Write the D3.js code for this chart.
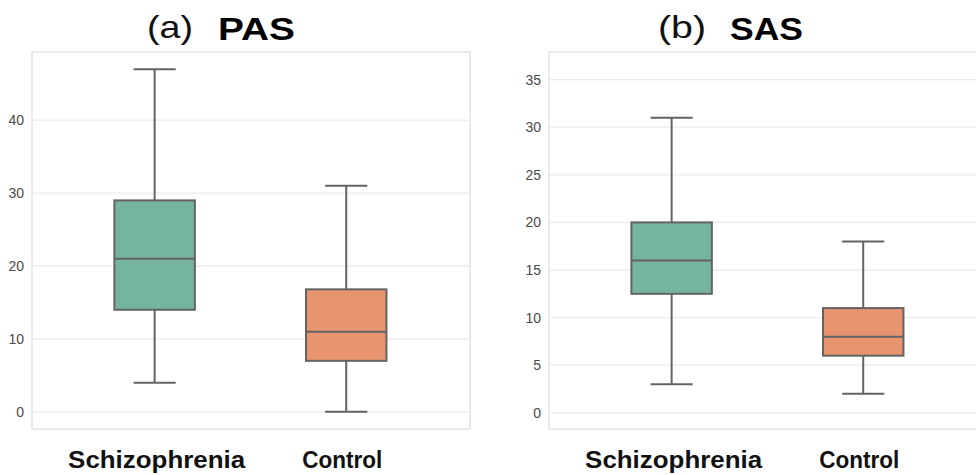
<!DOCTYPE html>
<html>
<head>
<meta charset="utf-8">
<script src="https://cdn.jsdelivr.net/npm/d3@7"></script>
<style>
	body { margin: 0; background: #fff; }
	svg { display: block; font-family: "Liberation Sans", Arial, sans-serif; }
</style>
</head>
<body>
<svg id="chart" width="976" height="475"></svg>
<script>
	'use strict';
	// categories and box stats
	var groups = ['Schizophrenia', 'Control'];
	var colors = ['#75b5a0', '#e8956f'];

	var pasStats = [
		{min: 4, q1: 14, median: 21, q3: 29, max: 47},
		{min: 0, q1: 7, median: 11, q3: 16.8, max: 31}
	];
	var sasStats = [
		{min: 3, q1: 12.5, median: 16, q3: 20, max: 31},
		{min: 2, q1: 6, median: 8, q3: 11, max: 18}
	];

	var pasTicks = [0, 10, 20, 30, 40];
	var sasTicks = [0, 5, 10, 15, 20, 25, 30, 35];

	(function () {
		var panels = [
			{
				letter: '(a)', name: 'PAS', stats: pasStats, ticks: pasTicks,
				yDomain: [-2.35, 49.35], left: 32, right: 470,
				titleX: 147, nameX: 218, letterW: 46, nameW: 77
			},
			{
				letter: '(b)', name: 'SAS', stats: sasStats, ticks: sasTicks,
				yDomain: [-1.7, 37.9], left: 549, right: 987,
				titleX: 658, nameX: 730, letterW: 48, nameW: 73
			}
		];

		var plotTop = 52, plotBottom = 429;
		var boxW = 0.42, capW = 0.22;
		var lineColor = '#636363';
		var labelW = [177, 80];

		var svg = d3.select('#chart');

		panels.forEach(function (p) {
			var g = svg.append('g');

			var x = d3.scaleLinear()
				.domain([-0.64, 1.646])
				.range([p.left, p.right]);
			var y = d3.scaleLinear()
				.domain(p.yDomain)
				.range([plotBottom, plotTop]);

			// grid
			g.append('g')
				.selectAll('line')
				.data(p.ticks)
				.enter().append('line')
				.attr('x1', p.left)
				.attr('x2', p.right)
				.attr('y1', function (d) { return y(d); })
				.attr('y2', function (d) { return y(d); })
				.attr('stroke', '#ebebeb')
				.attr('stroke-width', 1.3);

			// frame
			g.append('rect')
				.attr('x', p.left)
				.attr('y', plotTop)
				.attr('width', p.right - p.left)
				.attr('height', plotBottom - plotTop)
				.attr('fill', 'none')
				.attr('stroke', '#e3e3e3')
				.attr('stroke-width', 1.5);

			// y axis labels
			var yAxis = d3.axisLeft(y)
				.tickValues(p.ticks)
				.tickSize(0)
				.tickPadding(8);
			var ax = g.append('g')
				.attr('transform', 'translate(' + p.left + ',0)')
				.call(yAxis);
			ax.select('.domain').remove();
			ax.selectAll('text')
				.attr('font-size', 14)
				.attr('fill', '#4a4a4a')
				.attr('font-family', '"Liberation Sans", Arial, sans-serif');

			// boxes
			var box = g.selectAll('g.box')
				.data(p.stats)
				.enter().append('g')
				.attr('class', 'box');

			box.append('line')
				.attr('x1', function (d, i) { return x(i); })
				.attr('x2', function (d, i) { return x(i); })
				.attr('y1', function (d) { return y(d.max); })
				.attr('y2', function (d) { return y(d.q3); })
				.attr('stroke', lineColor).attr('stroke-width', 2);
			box.append('line')
				.attr('x1', function (d, i) { return x(i); })
				.attr('x2', function (d, i) { return x(i); })
				.attr('y1', function (d) { return y(d.q1); })
				.attr('y2', function (d) { return y(d.min); })
				.attr('stroke', lineColor).attr('stroke-width', 2);
			['max', 'min'].forEach(function (k) {
				box.append('line')
					.attr('x1', function (d, i) { return x(i - capW / 2); })
					.attr('x2', function (d, i) { return x(i + capW / 2); })
					.attr('y1', function (d) { return y(d[k]); })
					.attr('y2', function (d) { return y(d[k]); })
					.attr('stroke', lineColor).attr('stroke-width', 2);
			});
			box.append('rect')
				.attr('x', function (d, i) { return x(i - boxW / 2); })
				.attr('width', function (d, i) { return x(i + boxW / 2) - x(i - boxW / 2); })
				.attr('y', function (d) { return y(d.q3); })
				.attr('height', function (d) { return y(d.q1) - y(d.q3); })
				.attr('fill', function (d, i) { return colors[i]; })
				.attr('stroke', lineColor).attr('stroke-width', 2);
			box.append('line')
				.attr('x1', function (d, i) { return x(i - boxW / 2); })
				.attr('x2', function (d, i) { return x(i + boxW / 2); })
				.attr('y1', function (d) { return y(d.median); })
				.attr('y2', function (d) { return y(d.median); })
				.attr('stroke', lineColor).attr('stroke-width', 2);

			// category labels
			g.selectAll('text.cat')
				.data(groups)
				.enter().append('text')
				.attr('class', 'cat')
				.attr('x', function (d, i) { return x(i) + (i === 0 ? 2 : -4) - labelW[i] / 2; })
				.attr('y', 468)
				.attr('font-size', 24)
				.attr('font-weight', 'bold')
				.attr('fill', '#111')
				.attr('textLength', function (d, i) { return labelW[i]; })
				.attr('lengthAdjust', 'spacingAndGlyphs')
				.text(function (d) { return d; });

			// title
			g.append('text')
				.attr('x', p.titleX)
				.attr('y', 38)
				.attr('font-size', 32)
				.attr('fill', '#111')
				.attr('textLength', p.letterW)
				.attr('lengthAdjust', 'spacingAndGlyphs')
				.text(p.letter);
			g.append('text')
				.attr('x', p.nameX)
				.attr('y', 40)
				.attr('font-size', 31)
				.attr('font-weight', 'bold')
				.attr('fill', '#000')
				.attr('textLength', p.nameW)
				.attr('lengthAdjust', 'spacingAndGlyphs')
				.text(p.name);
		});
	})();
</script>
</body>
</html>
